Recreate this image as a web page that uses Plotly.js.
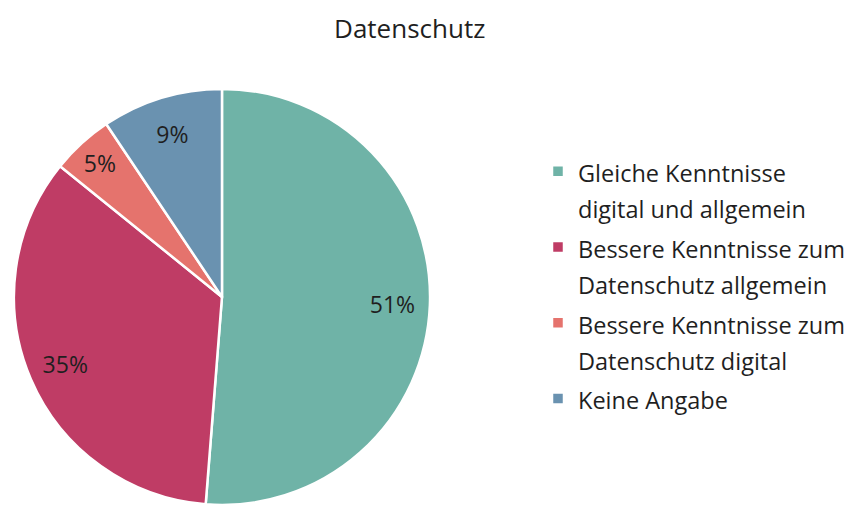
<!DOCTYPE html>
<html>
<head>
<meta charset="utf-8">
<script src="https://cdn.plot.ly/plotly-3.0.1.min.js"></script>
<style>html,body{margin:0;padding:0;background:#fff;}#chart{width:850px;height:505px;}</style>
</head>
<body>
<div id="chart"></div>
<script>
// Data
const categories = [
  "Gleiche Kenntnisse digital und allgemein",
  "Bessere Kenntnisse zum Datenschutz allgemein",
  "Bessere Kenntnisse zum Datenschutz digital",
  "Keine Angabe"
];
const legendLines = [
  ["Gleiche Kenntnisse", "digital und allgemein"],
  ["Bessere Kenntnisse zum", "Datenschutz allgemein"],
  ["Bessere Kenntnisse zum", "Datenschutz digital"],
  ["Keine Angabe"]
];
const values = [51.3, 34.6, 4.8, 9.4];
const colors = ["#6fb3a7", "#bf3c65", "#e5736d", "#6a92b0"];

const font = "'Open Sans', 'Noto Sans', sans-serif";
const glyphSize = 23.5;

const legendLabels = legendLines.map(lines =>
  lines.map(l => '<span style="font-size:' + glyphSize + 'px">' + l + '</span>').join("<br>")
);

const domain = { x: [0.0141, 0.5082], y: [0, 0.824] };

// Slices
const pieTrace = {
  type: "pie",
  labels: legendLabels,
  values: values,
  customdata: categories,
  sort: false,
  direction: "clockwise",
  rotation: 0,
  marker: { colors: colors, line: { color: "#ffffff", width: 2.5 } },
  textinfo: "none",
  hovertemplate: "%{customdata}: %{percent}<extra></extra>",
  domain: domain
};

// Percentage labels (same values, transparent ring so labels sit near the rim)
const labelTrace = {
  type: "pie",
  labels: legendLabels,
  values: values,
  sort: false,
  direction: "clockwise",
  rotation: 0,
  hole: 0.64,
  showlegend: false,
  hoverinfo: "skip",
  marker: { colors: colors.map(() => "rgba(0,0,0,0)"), line: { width: 0 } },
  texttemplate: "%{percent:.0%}",
  textposition: "inside",
  insidetextorientation: "horizontal",
  textfont: { family: font, size: 23, color: "#1f1f1f" },
  domain: domain
};

const layout = {
  width: 850,
  height: 505,
  margin: { l: 0, r: 0, t: 0, b: 0 },
  paper_bgcolor: "#ffffff",
  plot_bgcolor: "#ffffff",
  font: { family: font, color: "#1f1f1f" },
  title: {
    text: "Datenschutz",
    x: 0.482, xanchor: "center",
    y: 0.943, yanchor: "middle",
    font: { family: font, size: 26, color: "#1f1f1f" }
  },
  showlegend: true,
  legend: {
    x: 0.633, xanchor: "left",
    y: 0.71, yanchor: "top",
    valign: "top",
    font: { family: font, size: 28, color: "#1f1f1f" },
    bgcolor: "rgba(0,0,0,0)"
  }
};

Plotly.newPlot("chart", [pieTrace, labelTrace], layout, { displayModeBar: false, staticPlot: true });
</script>
</body>
</html>
